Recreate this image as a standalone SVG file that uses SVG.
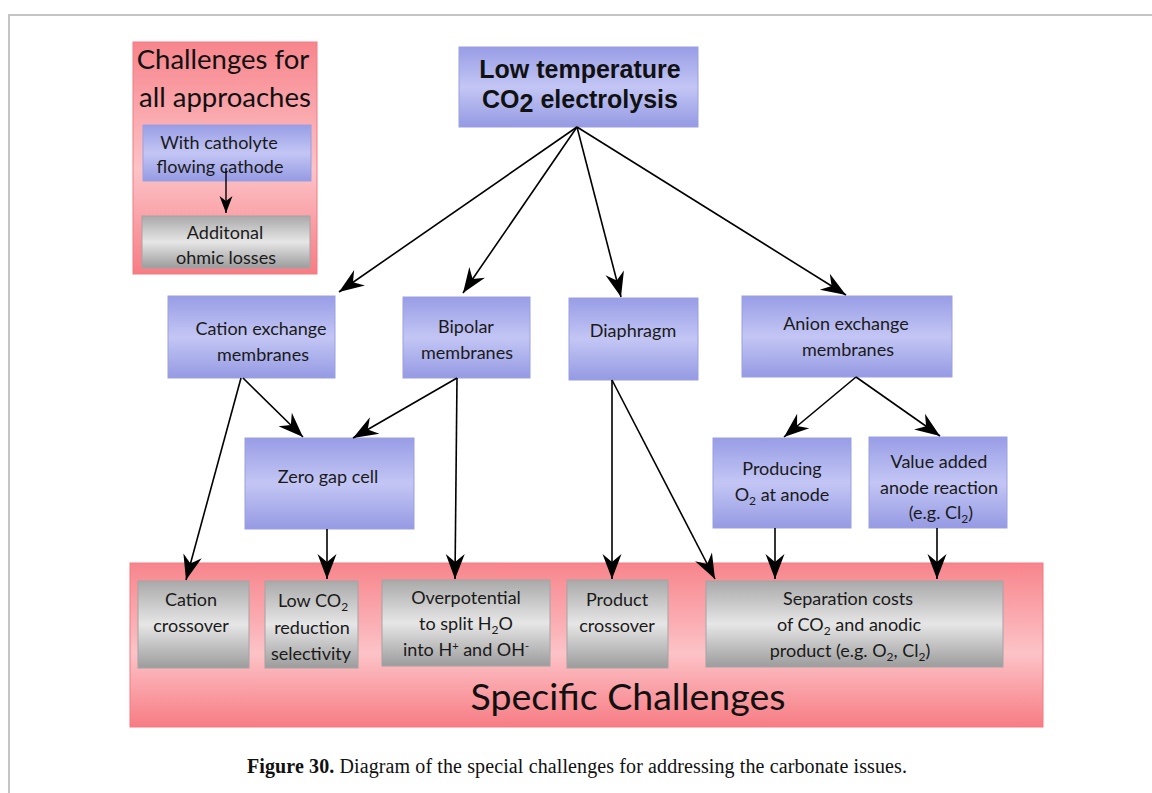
<svg xmlns="http://www.w3.org/2000/svg" width="1152" height="793" viewBox="0 0 1152 793">
<defs>
<linearGradient id="gBlue" x1="0" y1="0" x2="0" y2="1">
<stop offset="0" stop-color="#989de6"/>
<stop offset="0.5" stop-color="#c3c6f4"/>
<stop offset="1" stop-color="#959ae3"/>
</linearGradient>
<linearGradient id="gGray" x1="0" y1="0" x2="0" y2="1">
<stop offset="0" stop-color="#a9a9a9"/>
<stop offset="0.5" stop-color="#e6e6e6"/>
<stop offset="1" stop-color="#9c9c9c"/>
</linearGradient>
<linearGradient id="gPink" x1="0" y1="0" x2="0" y2="1">
<stop offset="0" stop-color="#f7858c"/>
<stop offset="0.55" stop-color="#fcc3c7"/>
<stop offset="1" stop-color="#f77c84"/>
</linearGradient>
<marker id="ah" markerUnits="userSpaceOnUse" markerWidth="30" markerHeight="22" viewBox="-27 -11 29 22" refX="0" refY="0" orient="auto">
<path d="M0,0 L-25,-9.5 L-17,0 L-25,9.5 Z" fill="#000"/>
</marker>
<marker id="ahs" markerUnits="userSpaceOnUse" markerWidth="20" markerHeight="16" viewBox="-18 -8 20 16" refX="0" refY="0" orient="auto">
<path d="M0,0 L-17,-6.5 L-12,0 L-17,6.5 Z" fill="#000"/>
</marker>
</defs>
<style>
.blue{fill:url(#gBlue);stroke:#9aa0e4;stroke-width:1}
.gray{fill:url(#gGray);stroke:#a4a4a4;stroke-width:1}
.pink{fill:url(#gPink);stroke:#f37a82;stroke-width:1}
.t{font-family:Lato,"Open Sans",sans-serif;font-size:18px;fill:#1a1a1a;text-anchor:middle}
.big{font-family:Lato,"Open Sans",sans-serif;fill:#111;text-anchor:middle}
.hd{font-family:"Liberation Sans",Arial,sans-serif;font-weight:bold;font-size:25px;fill:#111;text-anchor:middle}
.c{stroke:#000;stroke-width:1.6;fill:none;marker-end:url(#ah)}
.cap{font-family:"Liberation Serif","Times New Roman",serif;font-size:20px;fill:#111}
</style>
<rect x="0" y="0" width="1152" height="793" fill="#fff"/>
<path d="M9,793 V15 H1152" fill="none" stroke="#c4c4c4" stroke-width="2"/>

<g id="all-approaches">
<rect class="pink" x="133" y="42" width="184" height="232"/>
<text class="big" x="223" y="69" font-size="27.5">Challenges for</text>
<text class="big" x="225" y="107" font-size="27.5">all approaches</text>
</g>
<g id="catholyte">
<rect class="blue" x="143" y="125" width="168" height="56"/>
<text class="t" x="219" y="149">With catholyte</text>
<text class="t" x="220" y="173">flowing cathode</text>
</g>
<g id="ohmic">
<rect class="gray" x="142" y="216" width="168" height="52"/>
<text class="t" x="225" y="239">Additonal</text>
<text class="t" x="226" y="264">ohmic losses</text>
</g>

<g id="specific">
<rect class="pink" x="130" y="563" width="913" height="164"/>
<text class="big" x="628" y="710" font-size="37.5">Specific Challenges</text>
</g>

<g id="root">
<rect class="blue" x="459" y="47" width="239" height="80"/>
<text class="hd" x="580" y="78">Low temperature</text>
<text class="hd" x="580" y="108">CO<tspan dy="4">2</tspan><tspan dy="-4"> electrolysis</tspan></text>
</g>
<g id="cem">
<rect class="blue" x="168" y="296" width="167" height="82"/>
<text class="t" x="261" y="335">Cation exchange</text>
<text class="t" x="263" y="361">membranes</text>
</g>
<g id="bipolar">
<rect class="blue" x="403" y="297" width="127" height="81"/>
<text class="t" x="466" y="333">Bipolar</text>
<text class="t" x="467" y="359">membranes</text>
</g>
<g id="diaphragm">
<rect class="blue" x="569" y="298" width="129" height="82"/>
<text class="t" x="633" y="337">Diaphragm</text>
</g>
<g id="aem">
<rect class="blue" x="742" y="296" width="210" height="81"/>
<text class="t" x="846" y="330">Anion exchange</text>
<text class="t" x="848" y="356">membranes</text>
</g>
<g id="zerogap">
<rect class="blue" x="245" y="438" width="169" height="91"/>
<text class="t" x="328" y="483">Zero gap cell</text>
</g>
<g id="o2">
<rect class="blue" x="713" y="438" width="138" height="90"/>
<text class="t" x="782" y="475">Producing</text>
<text class="t" x="782" y="501">O<tspan font-size="12" dy="4">2</tspan><tspan dy="-4"> at anode</tspan></text>
</g>
<g id="valueadded">
<rect class="blue" x="869" y="437" width="138" height="91"/>
<text class="t" x="939" y="468">Value added</text>
<text class="t" x="939" y="494">anode reaction</text>
<text class="t" x="941" y="519">(e.g. Cl<tspan font-size="12" dy="4">2</tspan><tspan dy="-4">)</tspan></text>
</g>

<g id="cation-crossover">
<rect class="gray" x="138" y="581" width="111" height="87"/>
<text class="t" x="191" y="606">Cation</text>
<text class="t" x="191" y="632">crossover</text>
</g>
<g id="low-co2">
<rect class="gray" x="265" y="581" width="93" height="87"/>
<text class="t" x="313" y="607">Low CO<tspan font-size="12" dy="4">2</tspan></text>
<text class="t" x="312" y="634">reduction</text>
<text class="t" x="311" y="660">selectivity</text>
</g>
<g id="overpotential">
<rect class="gray" x="382" y="580" width="168" height="86"/>
<text class="t" x="466" y="604">Overpotential</text>
<text class="t" x="466" y="630">to split H<tspan font-size="12" dy="4">2</tspan><tspan dy="-4">O</tspan></text>
<text class="t" x="466" y="656">into H<tspan font-size="11" dy="-6">+</tspan><tspan dy="6"> and OH</tspan><tspan font-size="11" dy="-6">-</tspan></text>
</g>
<g id="product-crossover">
<rect class="gray" x="567" y="580" width="101" height="88"/>
<text class="t" x="617" y="606">Product</text>
<text class="t" x="617" y="632">crossover</text>
</g>
<g id="separation">
<rect class="gray" x="706" y="581" width="297" height="86"/>
<text class="t" x="848" y="605">Separation costs</text>
<text class="t" x="849" y="631">of CO<tspan font-size="12" dy="4">2</tspan><tspan dy="-4"> and anodic</tspan></text>
<text class="t" x="850" y="657">product (e.g. O<tspan font-size="12" dy="4">2</tspan><tspan dy="-4">, Cl</tspan><tspan font-size="12" dy="4">2</tspan><tspan dy="-4">)</tspan></text>
</g>

<g id="connectors">
<line x1="226" y1="168" x2="226" y2="213" stroke="#000" stroke-width="1.4" marker-end="url(#ahs)"/>
<line class="c" x1="577" y1="127" x2="339" y2="292"/>
<line class="c" x1="577" y1="127" x2="463" y2="293"/>
<line class="c" x1="577" y1="127" x2="621" y2="297"/>
<line class="c" x1="577" y1="127" x2="846" y2="295"/>
<line class="c" x1="241" y1="378" x2="186" y2="580"/>
<line class="c" x1="243" y1="378" x2="303" y2="437"/>
<line class="c" x1="457" y1="378" x2="353" y2="438"/>
<line class="c" x1="457" y1="378" x2="455" y2="579"/>
<line class="c" x1="327" y1="529" x2="327" y2="579"/>
<line class="c" x1="612" y1="380" x2="612" y2="579"/>
<line class="c" x1="612" y1="380" x2="715" y2="579"/>
<line class="c" x1="856" y1="377" x2="784" y2="437"/>
<line class="c" x1="856" y1="377" x2="940" y2="436"/>
<line class="c" x1="775" y1="528" x2="775" y2="579"/>
<line class="c" x1="937" y1="528" x2="937" y2="579"/>
</g>

<text class="cap" x="247" y="773" textLength="660" lengthAdjust="spacing"><tspan font-weight="bold">Figure 30.</tspan> Diagram of the special challenges for addressing the carbonate issues.</text>
</svg>
